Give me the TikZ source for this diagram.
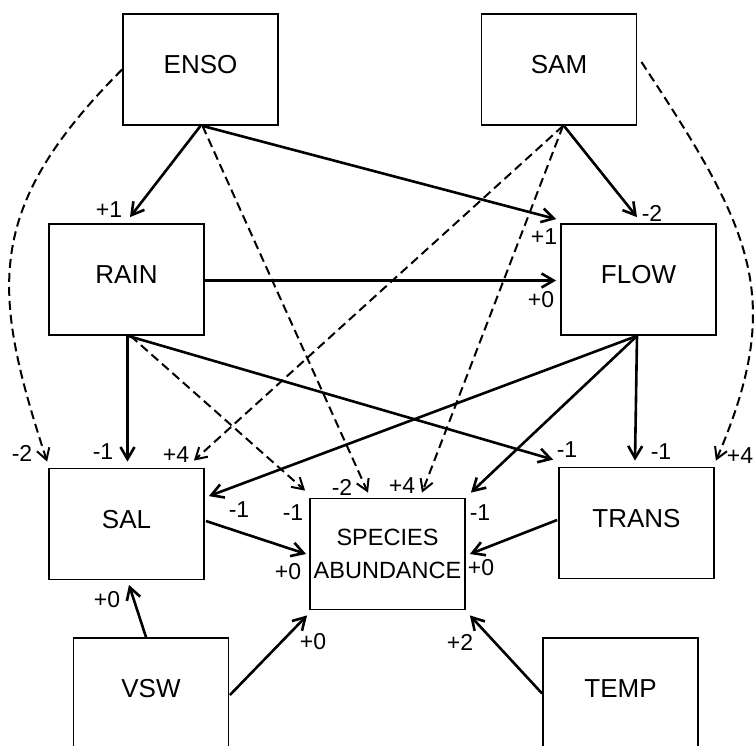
\documentclass[tikz,border=0pt]{standalone}
\usepackage{fontspec}
\setmainfont{Liberation Sans}
\usetikzlibrary{arrows.meta}
\begin{document}
\begin{tikzpicture}[x=1pt,y=-1pt,
  box/.style={draw, line width=1.8pt, minimum width=155pt, minimum height=111pt, inner sep=0pt,
    font=\fontsize{26}{30}\selectfont, text depth=10pt},
  lbl/.style={inner sep=0pt, font=\fontsize{23}{27}\selectfont},
  solidarr/.style={line width=2.6pt, -{Straight Barb[length=12pt,width=14pt]}},
  dasharr/.style={line width=2pt, dash pattern=on 9pt off 5pt, -{Straight Barb[length=11pt,width=13pt]}}
]
\useasboundingbox (0,0) rectangle (754,745);
\clip (0,0) rectangle (754,745);
% boxes
\node[box] (enso) at (200.5,69.5) {ENSO};
\node[box] (sam) at (559,69.5) {SAM};
\node[box] (rain) at (126.5,279.5) {RAIN};
\node[box] (flow) at (638.5,279.5) {FLOW};
\node[box] (sal) at (126.5,524) {SAL};
\node[box, text depth=0pt, align=center, font=\fontsize{23.5}{33}\selectfont] (sp) at (387.5,554) {SPECIES\\ABUNDANCE};
\node[box] (trans) at (636.5,523) {TRANS};
\node[box] (vsw) at (151,693.5) {VSW};
\node[box] (temp) at (620.5,693.5) {TEMP};
% solid connectors
\draw[solidarr] (enso.south) -- ([shift={(3.5,-6)}]rain.north);
\draw[solidarr] ([shift={(2,0)}]enso.south) -- ([shift={(-4,-4)}]flow.north west);
\draw[solidarr] ([shift={(5,0)}]sam.south) -- ([shift={(-1.5,-6)}]flow.north);
\draw[solidarr] ([shift={(0,1)}]rain.east) -- ([shift={(-4,1)}]flow.west);
\draw[solidarr] ([shift={(1,0)}]rain.south) -- ([shift={(1,-6)}]sal.north);
\draw[solidarr] ([shift={(1.5,0)}]rain.south) -- ([shift={(-5,-7)}]trans.north west);
\draw[solidarr] ([shift={(-1.5,0)}]flow.south) -- ([shift={(4,28.5)}]sal.north east);
\draw[solidarr] ([shift={(-1.5,0)}]flow.south) -- ([shift={(5,-5)}]sp.north east);
\draw[solidarr] ([shift={(-1.5,0)}]flow.south) -- ([shift={(-1.5,-6)}]trans.north);
\draw[solidarr] ([shift={(1,-3)}]sal.east) -- ([shift={(-3,0)}]sp.west);
\draw[solidarr] ([shift={(-1,-3)}]trans.west) -- ([shift={(4,0)}]sp.east);
\draw[solidarr] ([shift={(-5,0)}]vsw.north) -- ([shift={(2.5,4.5)}]sal.south);
\draw[solidarr] ([shift={(0.5,1.5)}]vsw.east) -- ([shift={(-2,5)}]sp.south west);
\draw[solidarr] (temp.west) -- ([shift={(4,5)}]sp.south east);
% dashed connectors
\draw[dasharr] (enso.west) .. controls (-18,210) and (-8,292) .. ([shift={(-1,-6)}]sal.north west);
\draw[dasharr] ([shift={(2,0)}]enso.south) -- ([shift={(-19.5,-5)}]sp.north);
\draw[dasharr] ([shift={(4,0)}]sam.south) -- ([shift={(-11,-7)}]sal.north east);
\draw[dasharr] ([shift={(4,0)}]sam.south) -- ([shift={(34.5,-5)}]sp.north);
\draw[dasharr] ([shift={(4,-7.5)}]sam.east) .. controls (751,228) and (787,296) .. ([shift={(1,-6)}]trans.north east);
\draw[dasharr] ([shift={(4,0)}]rain.south) -- ([shift={(-4,-7)}]sp.north west);
% labels
\node[lbl] (l1) at (109,210) {+1};
\node[lbl] (l2) at (544,237) {+1};
\node[lbl] (l3) at (22,453) {-2};
\node[lbl] (l4) at (342,487) {-2};
\node[lbl] (l5) at (652,213) {-2};
\node[lbl] (l6) at (176,455) {+4};
\node[lbl] (l7) at (402,486) {+4};
\node[lbl] (l8) at (740,456) {+4};
\node[lbl] (l9) at (541,300) {+0};
\node[lbl] (l10) at (103,452) {-1};
\node[lbl] (l11) at (567,450) {-1};
\node[lbl] (l12) at (293,513) {-1};
\node[lbl] (l13) at (239,510) {-1};
\node[lbl] (l14) at (480,513) {-1};
\node[lbl] (l15) at (661,452) {-1};
\node[lbl] (l16) at (288,572) {+0};
\node[lbl] (l17) at (481,568) {+0};
\node[lbl] (l18) at (107,600) {+0};
\node[lbl] (l19) at (313,642) {+0};
\node[lbl] (l20) at (460,642) {+2};
\end{tikzpicture}
\end{document}
